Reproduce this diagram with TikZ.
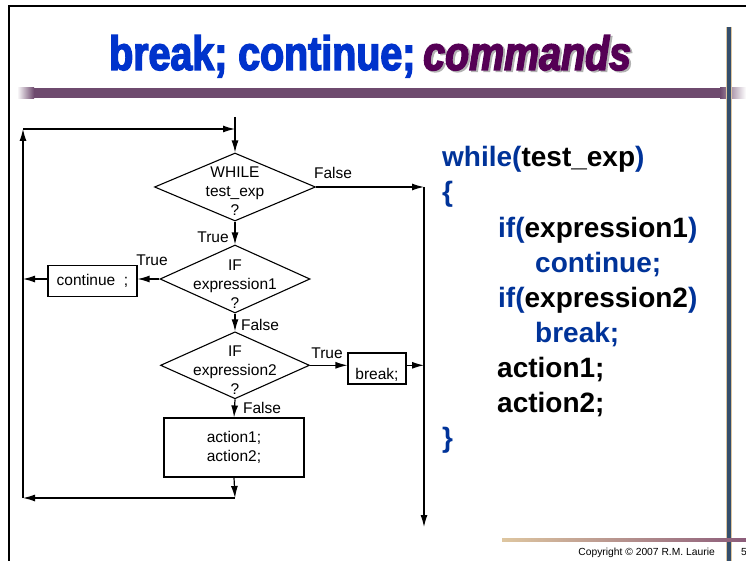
\documentclass[tikz,border=0pt]{standalone}
\usepackage{fontspec}
\setmainfont{Liberation Sans}
\newfontfamily\titlefont[FakeStretch=0.82,FakeBold=3]{Liberation Sans}
\usetikzlibrary{arrows.meta,shapes.geometric,calc}
\definecolor{tblue}{RGB}{0,51,204}
\definecolor{tpurple}{RGB}{85,0,85}
\definecolor{cblue}{RGB}{0,51,153}
\definecolor{barpurple}{RGB}{110,74,110}
\definecolor{slate}{RGB}{52,78,108}
\definecolor{tanc}{RGB}{222,198,160}
\definecolor{lpurple}{RGB}{140,92,122}
\begin{document}
\begin{tikzpicture}[x=1pt,y=-1pt,
 arr/.style={line width=1.2pt,-{Latex[length=12pt,width=7pt]}},
 dia/.style={draw,line width=1.1pt,diamond,inner sep=0pt},
 box/.style={draw,line width=1.1pt,inner sep=0pt},
 ftxt/.style={font=\fontsize{15.5}{19}\selectfont,inner sep=0pt,align=center},
 code/.style={font=\fontsize{28}{34}\selectfont\bfseries,anchor=base west,inner sep=0pt},
 ttl/.style={anchor=base west,inner sep=0pt,font=\titlefont\bfseries\fontsize{48}{52}\selectfont},
]
\useasboundingbox[fill=white] (0,0) rectangle (746,561);
% frame
\draw[line width=2pt] (9,561) -- (9,6) -- (746,6);
% title bar
\fill[left color=white,right color=barpurple] (17,88) rectangle (34,98.5);
\fill[barpurple] (33.5,88) rectangle (720.5,98.5);
\fill[left color=barpurple,right color=white] (720,88) rectangle (746,98.5);
% vertical slate line
\draw[tanc,line width=6pt] (729,27) -- (729,561);
\draw[slate,line width=4pt] (729,27) -- (729,561);
% bottom gradient line
\fill[left color=tanc,right color=lpurple] (502,538.5) rectangle (746,541.5);
% title
\node[ttl,text=tblue] (t1) at (109,70) {break; continue;};
\node[ttl,text=tpurple,font=\titlefont\bfseries\itshape\fontsize{48}{52}\selectfont] (t2) at (423,70) {\rlap{\hspace{2pt}\raisebox{-1.5pt}{\textcolor{black!30}{commands}}}commands};
% copyright
\node[anchor=base east,inner sep=0pt,font=\fontsize{10.3}{12}\selectfont] (copy) at (715,555) {Copyright © 2007 R.M. Laurie};
\node[anchor=base west,inner sep=0pt,font=\fontsize{10.3}{12}\selectfont] (pg) at (741,555) {5};
% code
\node[code] (l1) at (442,167) {\textcolor{cblue}{while(}test\_exp\textcolor{cblue}{)}};
\node[code,text=cblue] (l2) at (442,202) {\{};
\node[code] (l3) at (498,237) {\textcolor{cblue}{if(}expression1\textcolor{cblue}{)}};
\node[code,text=cblue] (l4) at (535,272) {continue;};
\node[code] (l5) at (498,307) {\textcolor{cblue}{if(}expression2\textcolor{cblue}{)}};
\node[code,text=cblue] (l6) at (535,342) {break;};
\node[code] (l7) at (497,377) {action1;};
\node[code] (l8) at (497,412) {action2;};
\node[code,text=cblue] (l9) at (442,447) {\}};
% flowchart coordinates
\coordinate (c1) at (235,498);
\coordinate (c2) at (23,498);
\coordinate (c3) at (23,129);
\coordinate (c4) at (235,129);
\coordinate (c5) at (235,117);
\coordinate (r1) at (424,187);
\coordinate (r2) at (424,527);
% shapes
\node[dia,minimum width=161,minimum height=68] (wh) at (235,187) {};
\node[ftxt] (wht) at (235,191) {WHILE\\test\_exp\\?};
\node[dia,minimum width=150,minimum height=68] (if1) at (235,279) {};
\node[ftxt] (if1t) at (235,284) {IF\\expression1\\?};
\node[dia,minimum width=149,minimum height=67] (if2) at (235,365.3) {};
\node[ftxt] (if2t) at (235,370) {IF\\expression2\\?};
\node[box,ftxt,minimum width=89,minimum height=31.5] (cont) at (92.5,281) {continue\ \ ;};
\node[box,minimum width=58,minimum height=31] (brk) at (377,368.5) {};
\node[ftxt] (brkt) at (377,375) {break;};
\node[box,ftxt,minimum width=140,minimum height=59] (act) at (234,447.5) {action1;\\action2;};
% connectors
\draw[arr] (c5) -- (wh.north);
\draw[arr] (wh.south) -- (if1.north);
\draw[arr] (if1.south) -- (if2.north);
\draw[arr] (if2.south) -- (act.north);
\draw[arr] (act.south) -- (c1);
\draw[arr] (c1) -- (c2);
\draw[arr] (c2) -- (c3);
\draw[arr] (c3) -- (c4);
\draw[arr] (if1.west) -- (if1.west -| cont.east);
\draw[arr] (if1.west -| cont.west) -- (if1.west -| c3);
\draw[arr] (wh.east) -- (r1);
\draw[arr] (r1) -- (r2);
\draw[arr] (if2.east) -- (if2.east -| brk.west);
\draw[arr] (if2.east -| brk.east) -- (if2.east -| r1);
% labels
\node[ftxt] (lf1) at (333,173) {False};
\node[ftxt] (lt1) at (213,237) {True};
\node[ftxt] (lt2) at (152,260) {True};
\node[ftxt] (lf2) at (260,325) {False};
\node[ftxt] (lt3) at (327,353) {True};
\node[ftxt] (lf3) at (262,408) {False};
\end{tikzpicture}
\end{document}
